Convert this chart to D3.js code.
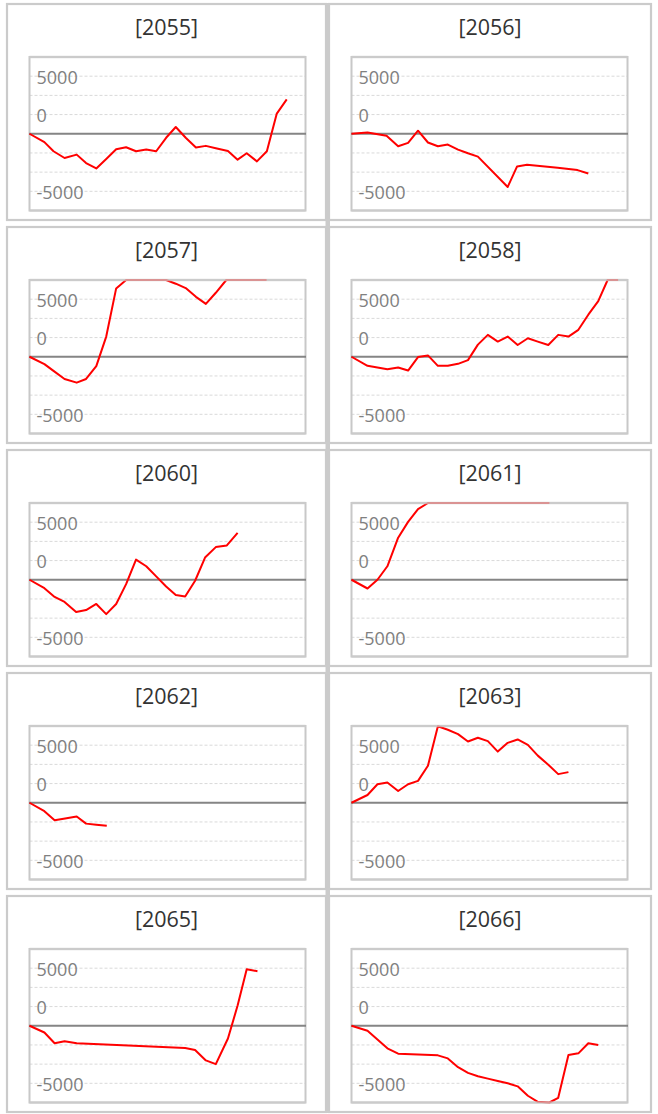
<!DOCTYPE html>
<html>
<head>
<meta charset="utf-8">
<script src="https://cdn.jsdelivr.net/npm/d3@7/dist/d3.min.js"></script>
<style>
  html, body { margin: 0; padding: 0; background: #fff; }
  svg { display: block; }
</style>
</head>
<body>
<div id="chart"></div>
<script>
// ---- DATA ----
const years = ["2055", "2056", "2057", "2058", "2060", "2061", "2062", "2063", "2065", "2066"];

const x2055 = [0, 5.4, 8.7, 12.7, 17.1, 20.5, 24.2, 27.8, 31.4, 35.0, 38.6, 42.3, 45.9, 49.5, 53.0, 56.6, 60.3, 63.9, 67.5, 71.9, 75.4, 78.7, 82.4, 86.0, 89.6, 93.2];
const v2055 = [0, -731, -1520, -2105, -1813, -2544, -3012, -2193, -1345, -1170, -1520, -1374, -1520, -351, 585, -351, -1199, -1053, -1257, -1491, -2251, -1696, -2398, -1520, 1754, 2982];

const x2056 = [0, 5.8, 12.7, 16.9, 20.5, 24.1, 27.7, 31.3, 34.9, 38.6, 42.2, 45.8, 56.6, 60.0, 63.6, 74.7, 81.9, 85.8];
const v2056 = [0, 117, -175, -1082, -789, 263, -760, -1082, -936, -1374, -1696, -1988, -4620, -2836, -2690, -2953, -3158, -3450];

const x2057 = [0, 5.4, 8.7, 12.7, 17.1, 20.5, 24.2, 27.8, 31.4, 35.0, 38.6, 42.3, 45.9, 49.5, 53.0, 56.6, 60.3, 63.9, 67.5, 71.3, 75.0, 78.6, 82.2, 85.9];
const v2057 = [0, -643, -1228, -1930, -2251, -1930, -819, 1754, 5936, 7100, 7600, 7900, 7500, 6900, 6345, 5965, 5205, 4591, 5556, 6700, 7300, 7600, 7400, 7100];

const x2058 = [0, 5.8, 9.4, 13.0, 16.9, 20.5, 24.1, 27.7, 31.3, 34.9, 38.6, 42.2, 45.8, 49.4, 53.0, 56.6, 60.2, 63.9, 67.5, 71.3, 74.9, 78.6, 82.2, 85.8, 89.4, 92.8, 96.6];
const v2058 = [0, -789, -936, -1082, -936, -1199, -29, 117, -789, -789, -614, -292, 1053, 1901, 1316, 1754, 1023, 1608, 1316, 1023, 1901, 1754, 2339, 3655, 4825, 6800, 7300];

const x2060 = [0, 5.4, 9.1, 12.7, 16.9, 20.5, 24.2, 27.8, 31.4, 35.0, 38.6, 42.3, 45.9, 49.5, 53.0, 56.4, 60.0, 63.6, 67.5, 71.5, 75.4];
const v2060 = [0, -731, -1491, -1930, -2807, -2632, -2105, -2982, -2105, -380, 1754, 1170, 292, -585, -1316, -1462, -88, 1930, 2836, 2982, 4064];

const x2061 = [0, 5.8, 9.4, 13.0, 16.9, 20.5, 24.1, 27.7, 31.3, 34.9, 38.6, 42.2, 45.8, 49.4, 53.0, 56.6, 60.2, 63.9, 67.5, 71.7];
const v2061 = [0, -760, 0, 1170, 3655, 5029, 6140, 6900, 7600, 8200, 8700, 9100, 9400, 9300, 9600, 9900, 10200, 10100, 10400, 10600];

const x2062 = [0, 5.4, 9.1, 12.9, 17.1, 20.5, 24.2, 28.0];
const v2062 = [0, -731, -1520, -1374, -1199, -1813, -1901, -1988];

const x2063 = [0, 5.8, 9.4, 13.0, 16.9, 20.5, 24.1, 27.7, 31.3, 34.9, 38.6, 42.2, 45.8, 49.4, 53.0, 56.6, 60.2, 63.9, 67.5, 71.3, 74.9, 78.6];
const v2063 = [0, 673, 1608, 1754, 1023, 1608, 1901, 3216, 6640, 6345, 5965, 5322, 5643, 5351, 4444, 5205, 5497, 5029, 4094, 3304, 2485, 2661];

const x2065 = [0, 5.4, 9.1, 12.7, 17.1, 56.4, 60.0, 63.9, 67.5, 71.9, 75.4, 78.7, 82.6];
const v2065 = [0, -585, -1520, -1345, -1520, -1930, -2105, -3012, -3333, -1111, 1754, 4912, 4737];

const x2066 = [0, 5.8, 9.4, 13.0, 16.9, 31.3, 34.9, 38.6, 42.2, 45.8, 49.4, 53.0, 56.6, 60.2, 63.9, 67.5, 71.7, 74.9, 78.6, 82.2, 85.8, 89.4];
const v2066 = [0, -439, -1199, -1959, -2427, -2573, -2836, -3597, -4094, -4386, -4591, -4795, -5000, -5263, -6082, -6608, -6700, -6257, -2544, -2398, -1520, -1667];

const seriesX = [x2055, x2056, x2057, x2058, x2060, x2061, x2062, x2063, x2065, x2066];
const seriesV = [v2055, v2056, v2057, v2058, v2060, v2061, v2062, v2063, v2065, v2066];

const yTickLabels = ["5000", "0", "-5000"];
const yTickLabelValues = [5000, 1667, -5000];
const yDomain = [-6667, 6667];
const xDomain = [0, 100];

// ---- LAYOUT ----
const W = 658, H = 1114;
const svg = d3.select("#chart").append("svg").attr("width", W).attr("height", H);
const FONT = "'Open Sans', 'DejaVu Sans', sans-serif";

const colLeft = [7, 329];
const colRight = [326, 651];
const rowStep = 223;
const panelH = 216;
const plotOffTop = 53;
const plotH = 153.5;
const plotLeft = [29.5, 351.5];
const plotW = 276;

const gridVals = d3.range(-3, 4).map(i => i * yDomain[1] / 4);

years.forEach((yr, i) => {
  const col = i % 2, row = Math.floor(i / 2);
  const top = 4 + row * rowStep;
  const g = svg.append("g");

  g.append("rect")
    .attr("x", colLeft[col]).attr("y", top)
    .attr("width", colRight[col] - colLeft[col]).attr("height", panelH)
    .attr("fill", "none").attr("stroke", "#cbcbcb").attr("stroke-width", 2.2);

  g.append("text")
    .attr("x", (colLeft[col] + colRight[col]) / 2)
    .attr("y", top + 30.5)
    .attr("text-anchor", "middle")
    .attr("font-family", FONT).attr("font-size", 21.5)
    .attr("fill", "#333")
    .text("[" + yr + "]");

  const px0 = plotLeft[col], py0 = top + plotOffTop;
  const x = d3.scaleLinear().domain(xDomain).range([px0, px0 + plotW]);
  const y = d3.scaleLinear().domain(yDomain).range([py0 + plotH, py0]).clamp(true);

  g.append("g").selectAll("line").data(gridVals.filter(v => v !== 0)).join("line")
    .attr("x1", px0).attr("x2", px0 + plotW)
    .attr("y1", d => y(d)).attr("y2", d => y(d))
    .attr("stroke", "#d9d9d9").attr("stroke-width", 1).attr("stroke-dasharray", "3,2");

  g.append("rect")
    .attr("x", px0).attr("y", py0).attr("width", plotW).attr("height", plotH)
    .attr("fill", "none").attr("stroke", "#c8c8c8").attr("stroke-width", 2);

  g.append("line")
    .attr("x1", px0 - 0.5).attr("x2", px0 + plotW + 0.5)
    .attr("y1", y(0)).attr("y2", y(0))
    .attr("stroke", "#858585").attr("stroke-width", 1.8);

  g.append("g").selectAll("text").data(yTickLabels).join("text")
    .attr("x", px0 + 7)
    .attr("y", (d, k) => y(yTickLabelValues[k]) + 0.5)
    .attr("dominant-baseline", "central")
    .attr("font-family", FONT).attr("font-size", 18)
    .attr("fill", "#808080")
    .text(d => d);

  const pts = seriesX[i].map((xv, k) => [xv, seriesV[i][k]]);
  const line = d3.line().x(d => x(d[0])).y(d => y(d[1]));
  g.append("path").datum(pts)
    .attr("d", line)
    .attr("fill", "none").attr("stroke", "#ff0000").attr("stroke-width", 2)
    .attr("stroke-linejoin", "round");

  [py0, py0 + plotH].forEach(yy => {
    g.append("line")
      .attr("x1", px0).attr("x2", px0 + plotW)
      .attr("y1", yy).attr("y2", yy)
      .attr("stroke", "#cccccc").attr("stroke-opacity", 0.72).attr("stroke-width", 2.4);
  });
});

svg.append("rect").attr("x", 325.5).attr("y", 3).attr("width", 4.5).attr("height", 4 * rowStep + panelH + 2)
  .attr("fill", "#cbcbcb");
</script>
</body>
</html>
